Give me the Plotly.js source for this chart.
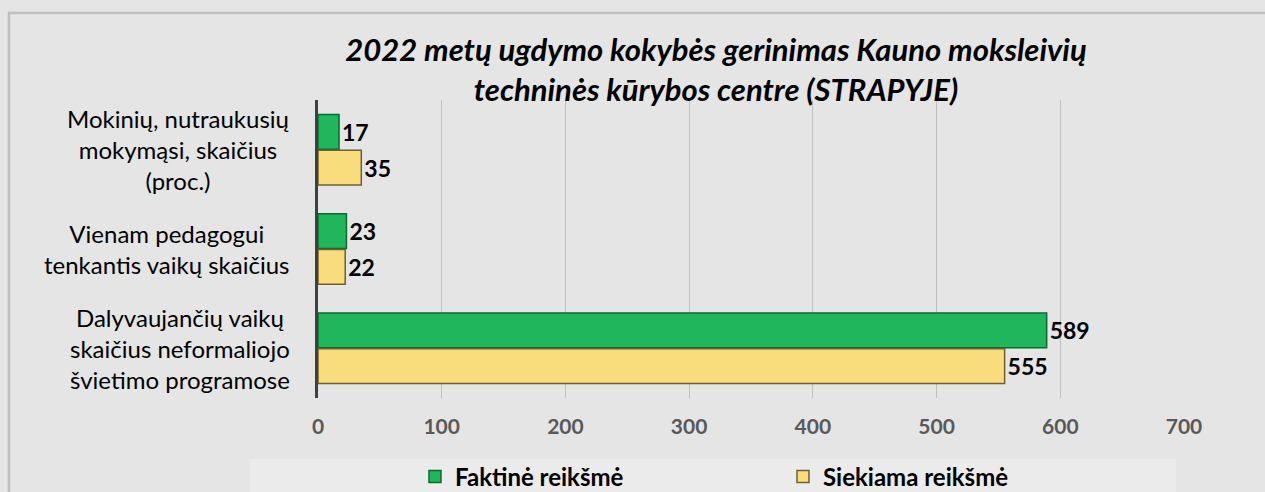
<!DOCTYPE html>
<html><head><meta charset="utf-8">
<script src="https://cdn.plot.ly/plotly-3.0.1.min.js"></script>
<style>html,body{margin:0;padding:0;background:#e5e5e5;}#chart{width:1265px;height:492px;}</style>
</head><body><div id="chart"></div>
<script>
const categories = [
  "Mokinių, nutraukusių<br>mokymąsi, skaičius<br>(proc.)",
  "Vienam pedagogui<br>tenkantis vaikų skaičius",
  "Dalyvaujančių vaikų<br>skaičius neformaliojo<br>švietimo programose"
];
const catKeys = ["c1", "c2", "c3"];
const faktine = [17, 23, 589];
const siekiama = [35, 22, 555];
const seriesNames = ["Faktinė reikšmė", "Siekiama reikšmė"];
const xTicks = [0, 100, 200, 300, 400, 500, 600, 700];

const FONT = "Lato, 'Open Sans', sans-serif";

const traces = [
  {type: "bar", orientation: "h", name: seriesNames[0], y: catKeys, x: faktine,
   text: faktine.map(String), textposition: "outside", cliponaxis: false,
   textfont: {family: FONT, size: 23, color: "#000", weight: "bold"},
   marker: {color: "#20b75c", line: {color: "#0b6a32", width: 1.5}}},
  {type: "bar", orientation: "h", name: seriesNames[1], y: catKeys, x: siekiama,
   text: siekiama.map(String), textposition: "outside", cliponaxis: false,
   textfont: {family: FONT, size: 23, color: "#000", weight: "bold"},
   marker: {color: "#f9dd7c", line: {color: "#6e6030", width: 1.5}}}
];

const annotations = catKeys.map((k, i) => ({
  xref: "paper", yref: "y", x: -0.0305, y: k, xanchor: "right", yanchor: "middle",
  text: categories[i], showarrow: false, align: "center",
  font: {family: FONT, size: 24, color: "#000"}
}));

const layout = {
  width: 1265, height: 492,
  paper_bgcolor: "#e5e5e5", plot_bgcolor: "#e5e5e5",
  margin: {l: 318, r: 81, t: 100, b: 94},
  barmode: "group", bargap: 0.28, bargroupgap: 0.03,
  title: {text: "<b><i>2022 metų ugdymo kokybės gerinimas Kauno moksleivių<br>techninės kūrybos centre (STRAPYJE)</i></b>",
          x: 716/1265, xref: "container", xanchor: "center", y: 1 - 61/492, yref: "container", yanchor: "top",
          font: {family: FONT, size: 31, color: "#000"}},
  xaxis: {range: [0, 700], tickvals: xTicks, ticktext: xTicks.map(String), showgrid: true,
          gridcolor: "#bfbfbf", gridwidth: 1, zeroline: false, showline: false,
          tickfont: {family: FONT, size: 21, color: "#595959", weight: "bold"}, ticks: "", ticklabelstandoff: 14},
  yaxis: {autorange: "reversed", showticklabels: false, ticks: "", showgrid: false, zeroline: false,
          showline: true, linecolor: "#404040", linewidth: 3},
  legend: {orientation: "h", x: 0.112, xanchor: "left", yref: "container", y: 1 - 477/492, yanchor: "middle",
           entrywidth: 323, entrywidthmode: "pixels", bgcolor: "rgba(0,0,0,0)",
           font: {family: FONT, size: 24, color: "#000", weight: "bold"}},
  annotations: annotations,
  shapes: [
    {type: "rect", xref: "paper", yref: "paper", x0: (250-318)/866, x1: (1176-318)/866,
     y0: -(459-398)/298, y1: -(492-398)/298 - 0.05, fillcolor: "#ebebeb", line: {width: 0}, layer: "below"},
    {type: "rect", xref: "paper", yref: "paper", x0: (9-318)/866, x1: (1275-318)/866,
     y0: -0.5, y1: 1 + (100-13)/298, fillcolor: "rgba(0,0,0,0)", line: {color: "#bfbfbf", width: 2.5}, layer: "below"}
  ],
  showlegend: true
};

Plotly.newPlot("chart", traces, layout, {displayModeBar: false, staticPlot: true});
</script></body></html>
